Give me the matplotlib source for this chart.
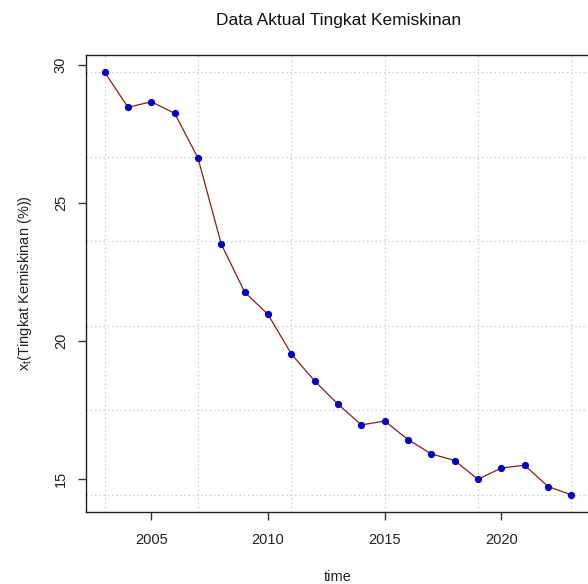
import numpy as np
import matplotlib
matplotlib.use("Agg")
import matplotlib.pyplot as plt

plt.rcParams["font.family"] = ["Liberation Sans", "DejaVu Sans"]

# Tingkat kemiskinan tahunan (%)
tahun = [2003, 2004, 2005, 2006, 2007, 2008, 2009, 2010, 2011, 2012, 2013,
         2014, 2015, 2016, 2017, 2018, 2019, 2020, 2021, 2022, 2023]
kemiskinan = [29.74, 28.47, 28.67, 28.25, 26.63, 23.51, 21.78, 20.97, 19.54,
              18.56, 17.72, 16.97, 17.11, 16.44, 15.92, 15.68, 15.00, 15.41,
              15.51, 14.74, 14.44]
x_ticks = [2005, 2010, 2015, 2020]
y_ticks = [15, 20, 25, 30]

x = np.array(tahun, dtype=float)
y = np.array(kemiskinan, dtype=float)

fig = plt.figure(figsize=(5.88, 5.84), dpi=100)
ax = fig.add_axes([86 / 588, 1 - 511.7 / 584, 504 / 588, (511.7 - 55.3) / 584])

# rentang sumbu gaya R: data +/- 4%
dx = (x.max() - x.min()) * 0.04
dy = (y.max() - y.min()) * 0.04
ax.set_xlim(x.min() - dx, x.max() + dx)
ax.set_ylim(y.min() - dy, y.max() + dy)

# grid titik-titik pada rentang data (5 sel)
for gx in np.linspace(x.min(), x.max(), 6):
    ax.axvline(gx, color="#CFCFCF", lw=0.9, ls=(0, (1.2, 2.2)), zorder=0)
for gy in np.linspace(y.min(), y.max(), 6):
    ax.axhline(gy, color="#CFCFCF", lw=0.9, ls=(0, (1.2, 2.2)), zorder=0)

ax.plot(x, y, color="#8B1A1A", lw=0.9, zorder=2)
ax.plot(x, y, "o", color="#0000C8", ms=4.2, mec="#0000C8", zorder=3)

for s in ax.spines.values():
    s.set_color("#222222")
    s.set_linewidth(1.0)

ax.set_xticks(x_ticks)
ax.set_yticks(y_ticks)
ax.tick_params(direction="out", length=6, width=1.0, color="#333333",
               labelsize=10.5, labelcolor="#222222")
ax.tick_params(axis="x", pad=9)
ax.tick_params(axis="y", pad=7)
for lab in ax.get_yticklabels():
    lab.set_rotation(90)
    lab.set_va("center")

ax.set_xlabel("time", fontsize=10.5, color="#222222", labelpad=17)
ax.set_ylabel(r"$\mathregular{x_t}$(Tingkat Kemiskinan (%))", fontsize=10.5,
              color="#222222", labelpad=14)
fig.text(0.575, 1 - 20 / 584, "Data Aktual Tingkat Kemiskinan",
         ha="center", va="center", fontsize=12.5, color="#111111")

fig.savefig("out.png", dpi=100)
